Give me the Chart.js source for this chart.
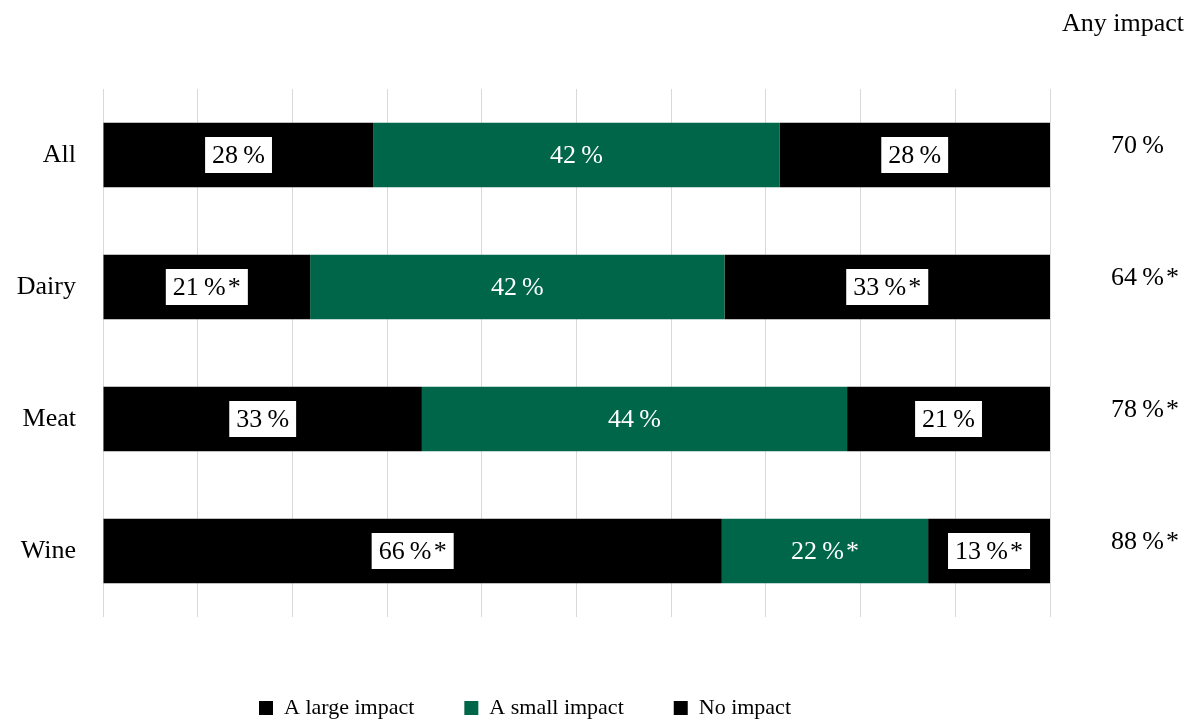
<!DOCTYPE html>
<html>
<head>
<meta charset="utf-8">
<script src="https://cdn.jsdelivr.net/npm/chart.js@4"></script>
<style>
  html, body { margin: 0; padding: 0; background: #fff; }
  #wrap { width: 1200px; height: 720px; }
</style>
</head>
<body>
<div id="wrap"><canvas id="myChart" width="1200" height="720"></canvas></div>
<script>
// data
const categories = ['All', 'Dairy', 'Meat', 'Wine'];
const largeImpact = [28, 21, 33, 66];
const smallImpact = [42, 42, 44, 22];
const noImpact = [28, 33, 21, 13];
const anyImpact = [70, 64, 78, 88];
// asterisk = significant difference
const largeStar = [false, true, false, true];
const smallStar = [false, false, false, true];
const noStar = [false, true, false, true];
const anyStar = [false, true, true, true];

const SERIF = '"Liberation Serif", "Times New Roman", serif';
const GREEN = '#00664a';

const fmt = (v, star) => v + '\u2009%' + (star ? '\u200a*' : '');

// bars fill the full row (100 %)
const totals = categories.map((c, i) => largeImpact[i] + smallImpact[i] + noImpact[i]);
const share = arr => arr.map((v, i) => v / totals[i] * 100);

const seriesRaw = [largeImpact, smallImpact, noImpact];
const seriesStar = [largeStar, smallStar, noStar];

// labels on the bars + the "Any impact" column
const labelPlugin = {
  id: 'barLabels',
  afterDatasetsDraw(chart) {
    const ctx = chart.ctx;
    ctx.save();
    ctx.font = '26px ' + SERIF;
    ctx.textBaseline = 'middle';
    chart.data.datasets.forEach((ds, di) => {
      chart.getDatasetMeta(di).data.forEach((bar, i) => {
        const txt = fmt(seriesRaw[di][i], seriesStar[di][i]);
        const cx = (bar.x + bar.base) / 2;
        const w = ctx.measureText(txt).width;
        ctx.textAlign = 'center';
        if (di === 1) {
          ctx.fillStyle = '#fff';
        } else {
          ctx.fillStyle = '#fff';
          ctx.fillRect(cx - w / 2 - 7, bar.y - 18, w + 14, 36);
          ctx.fillStyle = '#000';
        }
        ctx.fillText(txt, cx, bar.y + 1);
      });
    });
    // right column
    ctx.fillStyle = '#000';
    ctx.textAlign = 'left';
    ctx.fillText('Any impact', 1062, 24);
    const yScale = chart.scales.y;
    anyImpact.forEach((v, i) => {
      ctx.fillText(fmt(v, anyStar[i]), 1111, yScale.getPixelForValue(i) - 9);
    });
    ctx.restore();
  }
};

const data = {
  labels: categories,
  datasets: [
    { label: 'A large impact', data: share(largeImpact), backgroundColor: '#000' },
    { label: 'A small impact', data: share(smallImpact), backgroundColor: GREEN },
    { label: 'No impact', data: share(noImpact), backgroundColor: '#000' }
  ]
};

const config = {
  type: 'bar',
  data,
  options: {
    indexAxis: 'y',
    responsive: false,
    animation: false,
    layout: { padding: { top: 89, right: 150, left: 0, bottom: -9 } },
    datasets: {
      bar: { categoryPercentage: 1, barPercentage: 0.49, borderWidth: 0 }
    },
    scales: {
      x: {
        stacked: true,
        min: 0,
        max: 100,
        ticks: { display: false, stepSize: 10 },
        grid: { color: '#d9d9d9', drawTicks: false },
        border: { display: false },
        afterFit(s) { s.height = 30; }
      },
      y: {
        stacked: true,
        grid: { display: false },
        border: { display: false },
        ticks: { color: '#000', font: { family: SERIF, size: 26 }, padding: 19 },
        afterFit(s) { s.width = 103; }
      }
    },
    plugins: {
      legend: {
        position: 'bottom',
        labels: {
          color: '#000',
          font: { family: SERIF, size: 22 },
          boxWidth: 14,
          boxHeight: 14,
          padding: 50
        }
      },
      tooltip: { enabled: false }
    }
  },
  plugins: [labelPlugin]
};

const myChart = new Chart(document.getElementById('myChart'), config);
</script>
</body>
</html>
